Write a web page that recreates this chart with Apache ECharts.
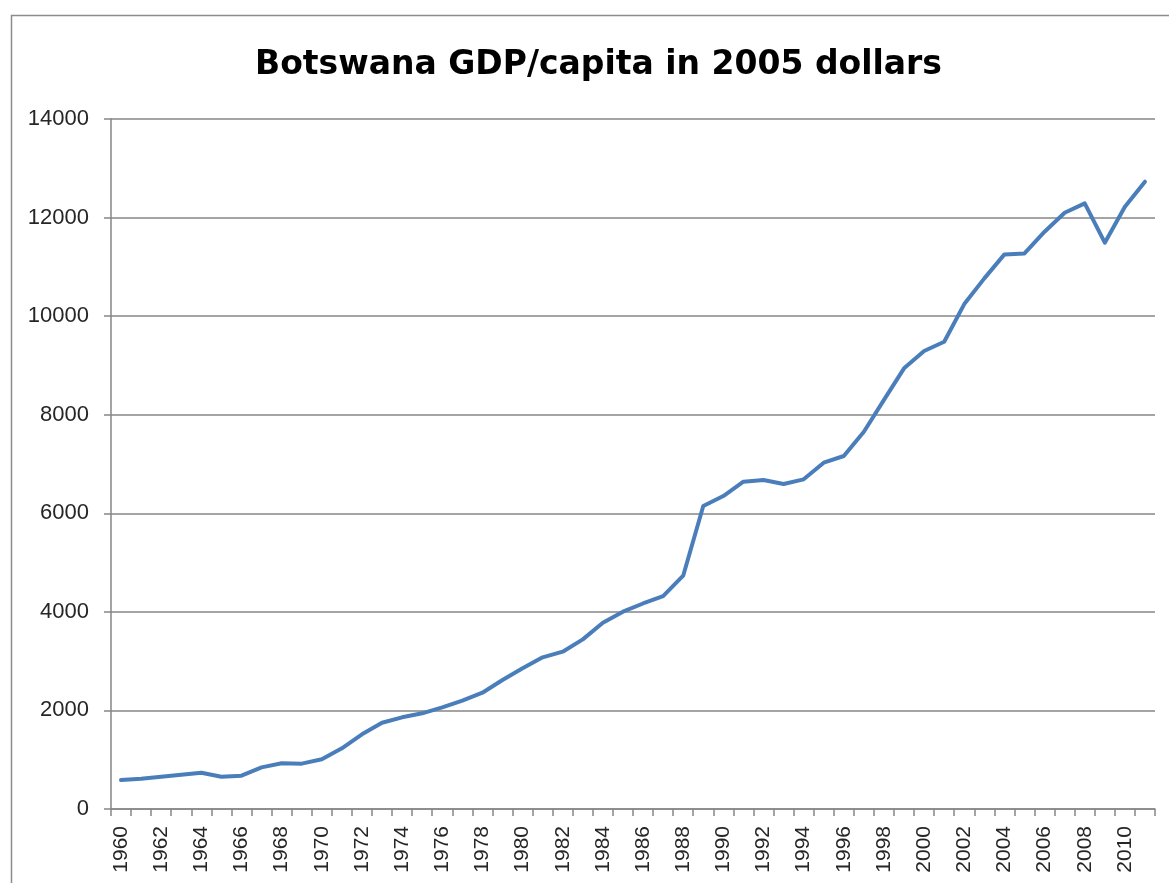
<!DOCTYPE html>
<html>
<head>
<meta charset="utf-8">
<script src="https://cdn.jsdelivr.net/npm/echarts@6/dist/echarts.min.js"></script>
<style>
html,body{margin:0;padding:0;background:#fff;}
#chart{width:1169px;height:883px;}
</style>
</head>
<body>
<div id="chart"></div>
<script>
const title = "Botswana GDP/capita in 2005 dollars";
const years = [];
for (let y = 1960; y <= 2011; y++) years.push(String(y));
const gdpPerCapita = [
  588, 615, 655, 696, 737, 656, 676, 845, 927, 920,
  1008, 1231, 1515, 1751, 1860, 1941, 2063, 2198, 2360, 2617,
  2854, 3077, 3192, 3442, 3780, 4003, 4170, 4321, 4734, 6147,
  6350, 6641, 6675, 6594, 6689, 7026, 7162, 7655, 8300, 8941,
  9292, 9481, 10245, 10766, 11253, 11273, 11713, 12098, 12288, 11490,
  12220, 12727
];
const yMin = 0, yMax = 14000, yStep = 2000;

const chart = echarts.init(document.getElementById('chart'), null, {renderer: 'canvas'});
chart.setOption({
  animation: false,
  backgroundColor: '#ffffff',
  graphic: [{
    type: 'rect',
    left: 9, top: 13,
    shape: {width: 1200, height: 900},
    style: {fill: 'none', stroke: '#8c8c8c', lineWidth: 1.5},
    silent: true
  }],
  title: {
    text: title,
    left: 250,
    top: 44,
    textStyle: {
      fontFamily: 'DejaVu Sans',
      fontWeight: 'bold',
      fontSize: 33,
      color: '#000'
    }
  },
  grid: {left: 111, right: 14, top: 119, bottom: 74, containLabel: false},
  xAxis: {
    type: 'category',
    data: years,
    boundaryGap: true,
    axisLine: {show: true, lineStyle: {color: '#868686', width: 1.5}},
    axisTick: {show: true, interval: 0, length: 7, lineStyle: {color: '#868686', width: 1.5}},
    axisLabel: {
      interval: 1,
      rotate: 90,
      margin: 17,
      fontFamily: 'Liberation Sans',
      fontSize: 21,
      color: '#262626'
    },
    splitLine: {show: false}
  },
  yAxis: {
    type: 'value',
    min: yMin, max: yMax, interval: yStep,
    axisLine: {show: true, lineStyle: {color: '#868686', width: 1.5}},
    axisTick: {show: true, length: 7, inside: false, lineStyle: {color: '#868686', width: 1.5}},
    axisLabel: {
      margin: 22,
      fontFamily: 'Liberation Sans',
      fontSize: 22,
      color: '#262626',
      formatter: function (v) { return String(v); }
    },
    splitLine: {show: true, lineStyle: {color: '#868686', width: 1.5}}
  },
  series: [{
    type: 'line',
    data: gdpPerCapita,
    showSymbol: false,
    symbol: 'none',
    smooth: false,
    lineStyle: {color: '#4a7ebb', width: 4, join: 'round', cap: 'round'},
    itemStyle: {color: '#4a7ebb'}
  }]
});
</script>
</body>
</html>
